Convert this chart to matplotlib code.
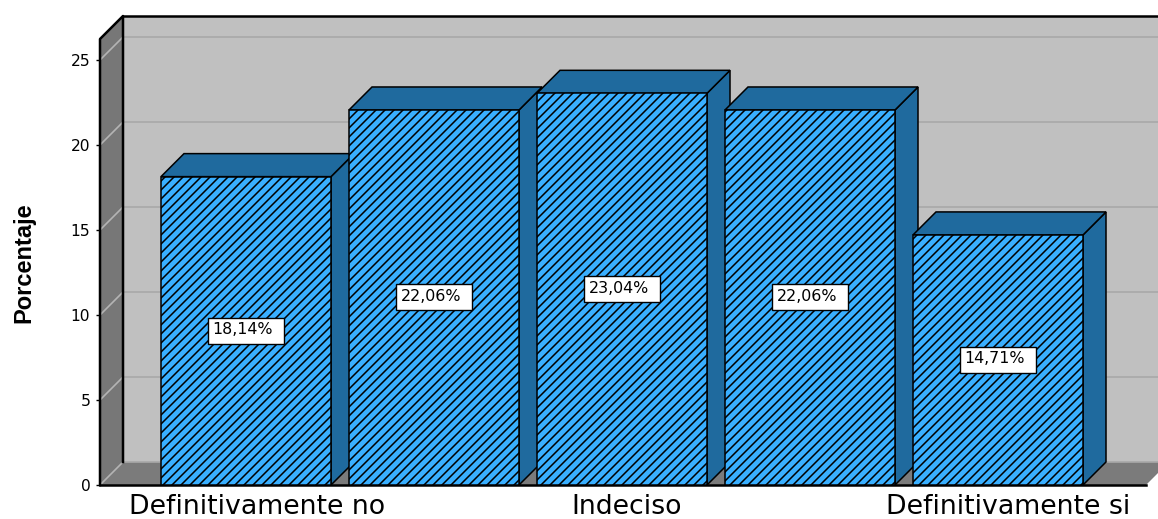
import matplotlib
matplotlib.use('Agg')
import matplotlib.pyplot as plt
from matplotlib.patches import Polygon, Rectangle

categories = ['Definitivamente no', 'En desacuerdo', 'Indeciso', 'De acuerdo', 'Definitivamente si']
shown_labels = [0, 2, 4]
label_shift = [11, 0, 5, 0, 10]
percent = [18.14, 22.06, 23.04, 22.06, 14.71]
y_ticks = [0, 5, 10, 15, 20, 25]

W, H = 1158, 519
DPI = 108
PT = 100 / DPI  # sizes below are given as if at 100 dpi
plot_left, plot_right, plot_bottom, plot_top = 100, 1146, 485, 39
px_per_cat = 188
px_per_unit = 17
first_center = 246
depth_px = 23

plt.rcParams['hatch.linewidth'] = 1.1 * PT

fig = plt.figure(figsize=(W / DPI, H / DPI), dpi=DPI)
ax = fig.add_axes([plot_left / W, 1 - plot_bottom / H,
                   (plot_right - plot_left) / W, (plot_bottom - plot_top) / H])
ax.set_xlim((plot_left - first_center) / px_per_cat, (plot_right - first_center) / px_per_cat)
ax.set_ylim(0, (plot_bottom - plot_top) / px_per_unit)
ax.patch.set_visible(False)
for s in ax.spines.values():
    s.set_visible(False)

x0, x1 = ax.get_xlim()
y0, y1 = ax.get_ylim()
dx = depth_px / px_per_cat
dy = depth_px / px_per_unit
bar_w = 170 / px_per_cat


def face(pts, fc, ec='black', lw=1.1, z=1):
    ax.add_patch(Polygon(pts, closed=True, facecolor=fc, edgecolor=ec, linewidth=lw * PT,
                         zorder=z, clip_on=False, joinstyle='miter'))


# walls and floor of the box
face([(x0 + dx, y0 + dy), (x1 + dx * 2, y0 + dy), (x1 + dx * 2, y1 + dy), (x0 + dx, y1 + dy)], '#c0c0c0', 'none', 0, 1)
face([(x0, y0), (x0 + dx, y0 + dy), (x0 + dx, y1 + dy), (x0, y1)], '#777777', 'none', 0, 1)
face([(x0, y0), (x1, y0), (x1 + dx, y0 + dy), (x1 + dx * 2, y0 + dy), (x0 + dx, y0 + dy)], '#7b7b7b', 'none', 0, 1)

# grid on the back wall and the left wall
for v in y_ticks:
    ax.plot([x0 + dx, x1 + dx * 2], [v + dy, v + dy], color='#a9a9a9', lw=1.2 * PT, zorder=2, clip_on=False)
    ax.plot([x0, x0 + dx], [v, v + dy], color='#b4b4b4', lw=1.2 * PT, zorder=2, clip_on=False)

ax.plot([x0, x0, x0 + dx, x0 + dx], [y0, y1, y1 + dy, y0 + dy], color='black', lw=1.8 * PT, zorder=3, clip_on=False)
ax.plot([x0 + dx, x1 + dx * 2], [y1 + dy, y1 + dy], color='black', lw=1.8 * PT, zorder=3, clip_on=False)
ax.plot([x0, x1], [y0, y0], color='black', lw=1.8 * PT, zorder=3, clip_on=False)

# bars, left to right so each front covers the previous side
for i, v in enumerate(percent):
    z = 10 + i
    l, r = i - bar_w / 2, i + bar_w / 2
    face([(r, 0), (r + dx, dy), (r + dx, v + dy), (r, v)], '#1f6a9e', z=z)
    face([(l, v), (l + dx, v + dy), (r + dx, v + dy), (r, v)], '#1f6a9e', z=z)
    ax.bar(i, v, width=bar_w, color='#39afff', edgecolor='black', linewidth=1.1 * PT,
           hatch='////', zorder=z)

# value labels
box_w = 76 / px_per_cat
box_h = 26 / px_per_unit
for i, v in enumerate(percent):
    ax.add_patch(Rectangle((i - box_w / 2, v / 2 - box_h / 2), box_w, box_h, facecolor='white',
                           edgecolor='black', linewidth=1.0 * PT, zorder=20))
    ax.annotate(f'{v:.2f}%'.replace('.', ','), (i, v / 2), xytext=(-3, 1), textcoords='offset pixels',
                ha='center', va='center', fontsize=11.4 * PT, family='DejaVu Sans', color='black', zorder=21)

ax.set_xticks([])
ax.set_yticks(y_ticks)
ax.tick_params(axis='y', length=3 * PT, width=1 * PT, pad=4 * PT, labelsize=11.2 * PT)
for t in ax.get_yticklabels():
    t.set_family('DejaVu Sans')

for i in shown_labels:
    ax.annotate(categories[i], (i, 0), xytext=(label_shift[i], -22), textcoords='offset pixels',
                ha='center', va='center', fontsize=19.3 * PT, family='DejaVu Sans', color='black',
                annotation_clip=False)

fig.text(24 / W, 1 - 263 / H, 'Porcentaje', rotation=90, ha='center', va='center',
         fontsize=17 * PT, fontweight='bold', family=['Liberation Sans Narrow', 'Liberation Sans'])

fig.savefig('out.png', dpi=DPI)
